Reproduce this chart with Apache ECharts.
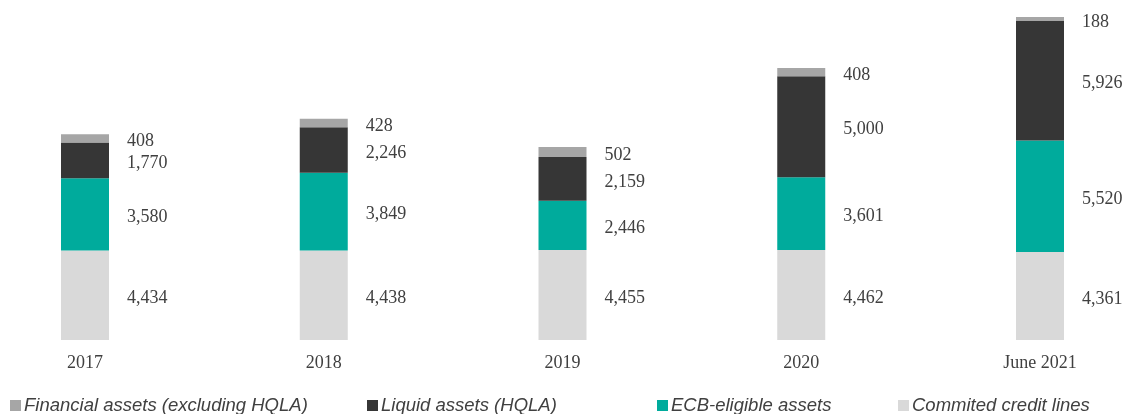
<!DOCTYPE html>
<html>
<head>
<meta charset="utf-8">
<script src="https://cdn.jsdelivr.net/npm/echarts@6/dist/echarts.min.js"></script>
<style>
  html, body { margin: 0; padding: 0; background: #fff; }
  #chart { width: 1123px; height: 414px; }
</style>
</head>
<body>
<div id="chart"></div>
<script>
const categories = ["2017", "2018", "2019", "2020", "June 2021"];
const committedLines = [4434, 4438, 4455, 4462, 4361];
const ecbEligible = [3580, 3849, 2446, 3601, 5520];
const liquidHqla = [1770, 2246, 2159, 5000, 5926];
const financialAssets = [408, 428, 502, 408, 188];

const seriesNames = [
  "Commited credit lines",
  "ECB-eligible assets",
  "Liquid assets (HQLA)",
  "Financial assets (excluding HQLA)",
];
const seriesColors = ["#d9d9d9", "#00ab9c", "#363636", "#a6a6a6"];
const seriesData = [committedLines, ecbEligible, liquidHqla, financialAssets];

// legend slots, left to right as in the original
const legendLeft = [10, 367, 657, 898];
const legendOrder = [3, 2, 1, 0];

const chart = echarts.init(document.getElementById("chart"));

const labelStyle = {
  show: true,
  position: "right",
  distance: 18,
  offset: [0, 3],
  fontFamily: "Liberation Serif",
  fontSize: 18,
  color: "#404040",
  formatter: (p) => p.value.toLocaleString("en-US"),
};

const series = seriesData.map((d, i) => ({
  name: seriesNames[i],
  type: "bar",
  stack: "total",
  barWidth: 48,
  data: d,
  itemStyle: { color: seriesColors[i] },
  label: labelStyle,
}));

const legends = legendOrder.map((idx, k) => ({
  data: [seriesNames[idx]],
  left: legendLeft[k],
  top: 396,
  padding: 0,
  itemWidth: 11,
  itemHeight: 11,
  icon: "rect",
  itemGap: 4,
  textStyle: {
    fontFamily: "Liberation Sans",
    fontStyle: "italic",
    fontSize: 18.5,
    color: "#404040",
    padding: [0, 0, 0, -2],
  },
}));

chart.setOption({
  animation: false,
  grid: { left: 85, right: 83, top: 17, bottom: 74 },
  legend: legends,
  xAxis: {
    type: "category",
    data: categories,
    boundaryGap: false,
    axisLine: { show: false },
    axisTick: { show: false },
    axisLabel: {
      margin: 14,
      fontFamily: "Liberation Serif",
      fontSize: 18,
      color: "#404040",
    },
  },
  yAxis: {
    type: "value",
    min: 0,
    max: 16000,
    show: false,
    splitLine: { show: false },
  },
  series: series,
});
</script>
</body>
</html>
